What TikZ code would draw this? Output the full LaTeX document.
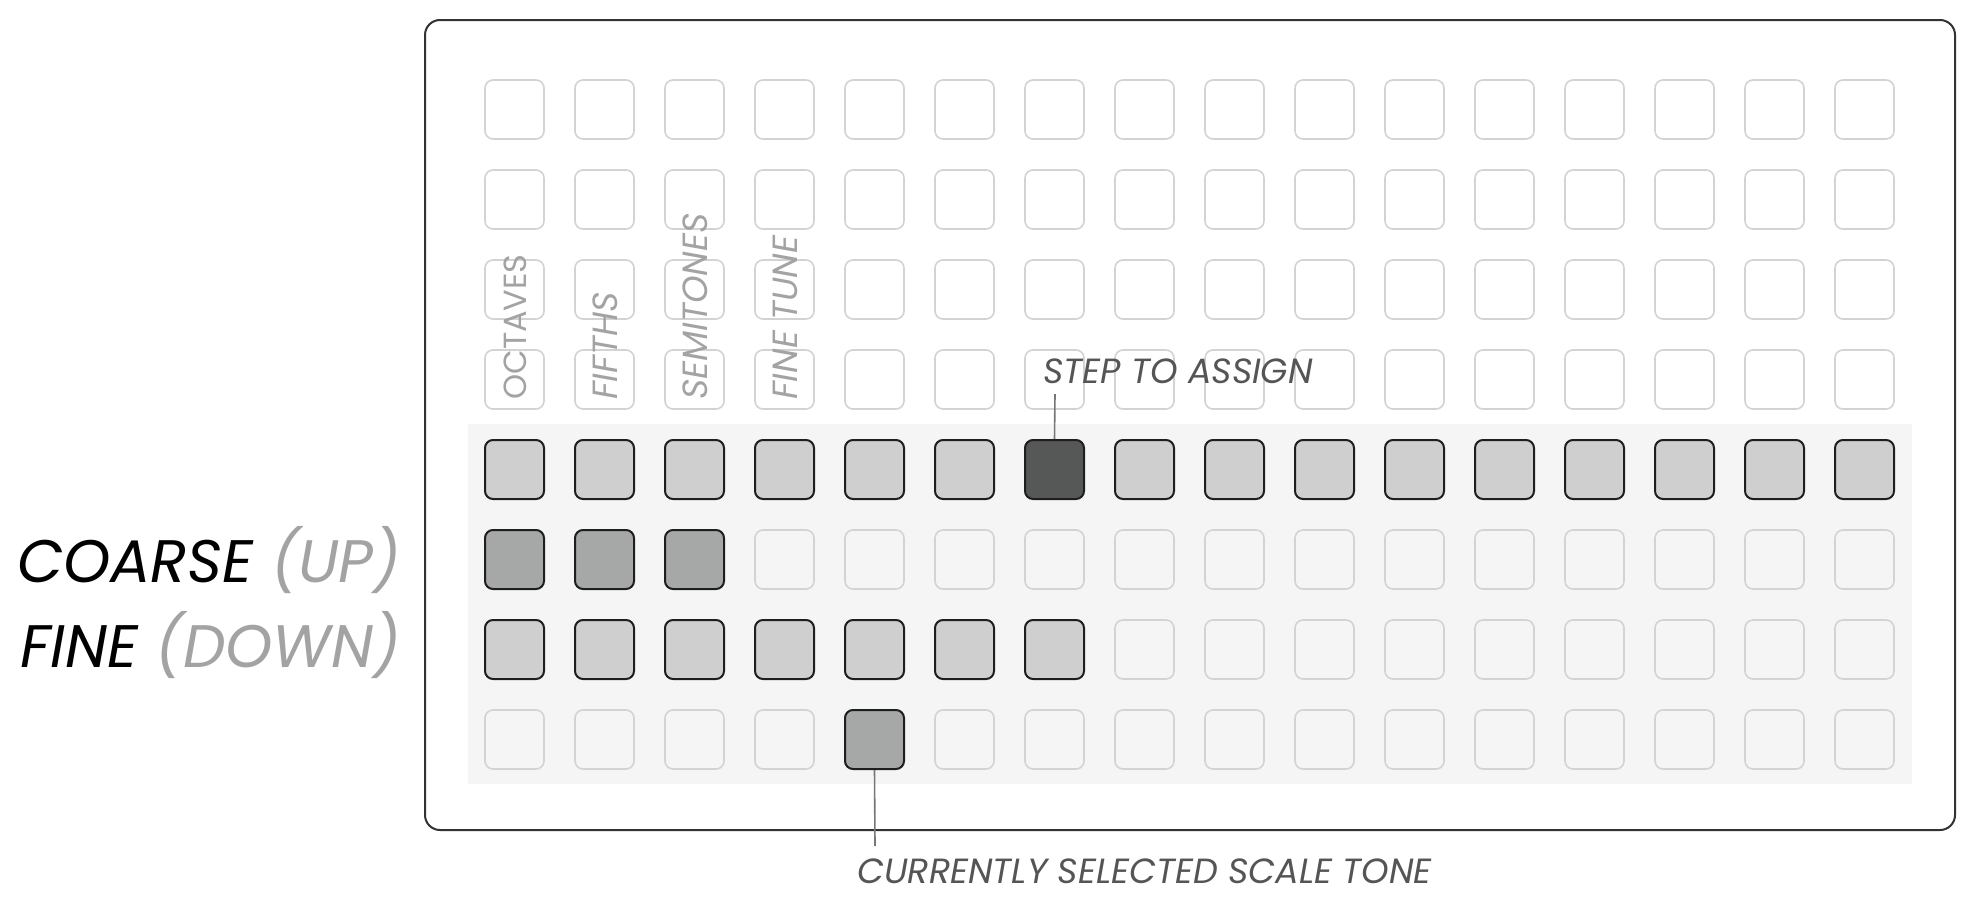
\documentclass[tikz,border=0pt]{standalone}
\usepackage{fontspec}
\setmainfont{Poppins}
\definecolor{framec}{HTML}{333333}
\definecolor{bgc}{HTML}{F5F5F5}
\definecolor{offc}{HTML}{D3D3D3}
\definecolor{litc}{HTML}{CFCFCF}
\definecolor{midc}{HTML}{A6A8A7}
\definecolor{darkc}{HTML}{555857}
\definecolor{edgec}{HTML}{1E1E1E}
\definecolor{labc}{HTML}{A3A3A3}
\definecolor{notec}{HTML}{555555}
\definecolor{connc}{HTML}{777777}
\begin{document}
\begin{tikzpicture}[x=1pt,y=-1pt,
  pad/.style={rectangle,rounded corners=8pt,minimum size=59pt,inner sep=0pt},
  padoff/.style={draw=offc,line width=1.6pt},
  padlit/.style={draw=edgec,fill=litc,line width=2pt},
  padmid/.style={draw=edgec,fill=midc,line width=2pt},
  paddark/.style={draw=edgec,fill=darkc,line width=2pt},
  collab/.style={rotate=90,anchor=west,inner sep=0pt,text=labc,font=\fontsize{35}{35}\selectfont},
  sidelab/.style={anchor=base east,inner sep=0pt,font=\fontsize{60}{60}\selectfont\itshape},
  note/.style={anchor=base west,inner sep=0pt,text=notec,font=\fontsize{35}{35}\selectfont\itshape},
  conn/.style={draw=connc,line width=1.6pt}]
\useasboundingbox (0,0) rectangle (1978,913);
\fill[white] (0,0) rectangle (1978,913);
% frame and background band
\draw[framec,line width=2pt,rounded corners=15pt] (425,20) rectangle (1955,830);
\fill[bgc] (468,424) rectangle (1912,784);
% pads
\foreach \r in {0,...,7}{
  \foreach \c in {0,...,15}{
    \tikzset{cur/.style={padoff}}
    \ifnum\r=4 \tikzset{cur/.style={padlit}}\fi
    \ifnum\r=4 \ifnum\c=6 \tikzset{cur/.style={paddark}}\fi\fi
    \ifnum\r=5 \ifnum\c<3 \tikzset{cur/.style={padmid}}\fi\fi
    \ifnum\r=6 \ifnum\c<7 \tikzset{cur/.style={padlit}}\fi\fi
    \ifnum\r=7 \ifnum\c=4 \tikzset{cur/.style={padmid}}\fi\fi
    \node[pad,cur] (p-\r-\c) at ({514.5+90*\c},{109.5+90*\r}) {};
  }
}
% column labels
\node[collab,font=\fontsize{32}{32}\selectfont] (loct) at (515,400) {OCTAVES};
\node[collab] (lfif) at (605,400) {\itshape FIFTHS};
\node[collab] (lsem) at (695,400) {\itshape SEMITONES};
\node[collab] (lfin) at (785,400) {\itshape FINE TUNE};
% side labels
\node[sidelab] (lcoarse) at (401,582) {COARSE \textcolor{labc}{(UP)}};
\node[sidelab] (lfine) at (401,667) {FINE \textcolor{labc}{(DOWN)}};
% notes
\node[note] (lstep) at (1043,383) {STEP TO ASSIGN};
\node[note] (ltone) at (857,883) {CURRENTLY SELECTED SCALE TONE};
\coordinate (stepend) at (1055,394);
\coordinate (toneend) at (875,846);
\draw[conn] (p-4-6.north) -- (stepend);
\draw[conn] (p-7-4.south) -- (toneend);
\end{tikzpicture}
\end{document}
